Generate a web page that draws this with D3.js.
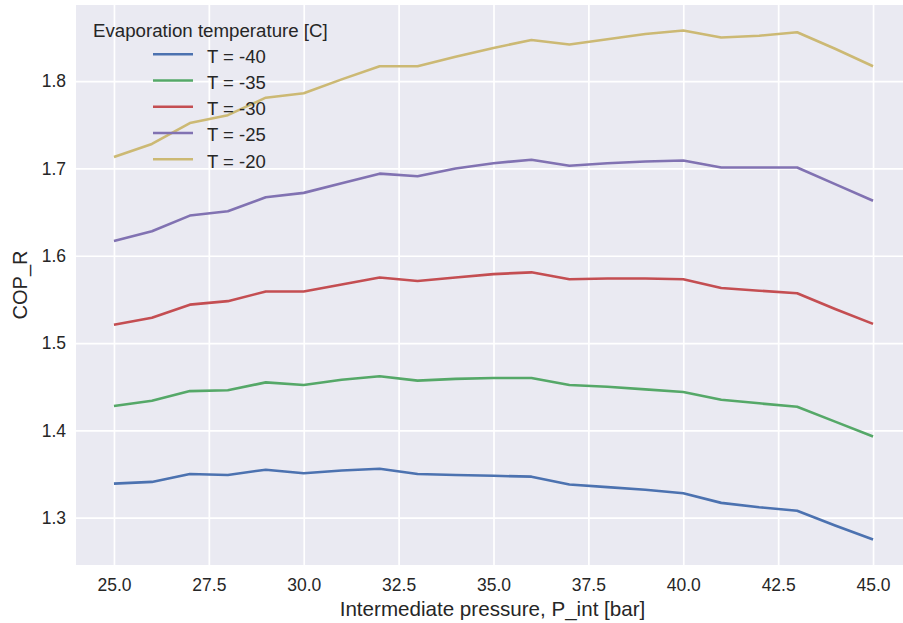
<!DOCTYPE html>
<html>
<head>
<meta charset="utf-8">
<script src="https://cdn.jsdelivr.net/npm/d3@7/dist/d3.min.js"></script>
<style>
  html, body { margin: 0; padding: 0; background: #ffffff; }
  svg { display: block; font-family: "Liberation Sans", Arial, sans-serif; }
</style>
</head>
<body>
<svg id="chart" width="903" height="623"></svg>
<script>
// Intermediate pressure [bar]
const pressures = [25, 26, 27, 28, 29, 30, 31, 32, 33, 34, 35, 36, 37, 38, 39, 40, 41, 42, 43, 44, 45];

// Evaporation temperatures [C]
const temperatures = [-40, -35, -30, -25, -20];

// COP_R per evaporation temperature, one value per pressure
const copT40 = [1.339, 1.341, 1.350, 1.349, 1.355, 1.351, 1.354, 1.356, 1.350, 1.349, 1.348, 1.347, 1.338, 1.335, 1.332, 1.328, 1.317, 1.312, 1.308, 1.291, 1.275];
const copT35 = [1.428, 1.434, 1.445, 1.446, 1.455, 1.452, 1.458, 1.462, 1.457, 1.459, 1.460, 1.460, 1.452, 1.450, 1.447, 1.444, 1.435, 1.431, 1.427, 1.410, 1.393];
const copT30 = [1.521, 1.529, 1.544, 1.548, 1.559, 1.559, 1.567, 1.575, 1.571, 1.575, 1.579, 1.581, 1.573, 1.574, 1.574, 1.573, 1.563, 1.560, 1.557, 1.539, 1.522];
const copT25 = [1.617, 1.628, 1.646, 1.651, 1.667, 1.672, 1.683, 1.694, 1.691, 1.700, 1.706, 1.710, 1.703, 1.706, 1.708, 1.709, 1.701, 1.701, 1.701, 1.682, 1.663];
const copT20 = [1.713, 1.728, 1.752, 1.761, 1.781, 1.786, 1.802, 1.817, 1.817, 1.828, 1.838, 1.847, 1.842, 1.848, 1.854, 1.858, 1.850, 1.852, 1.856, 1.837, 1.817];

const seriesValues = [copT40, copT35, copT30, copT25, copT20];
const seriesColors = ["#4C72B0", "#55A868", "#C44E52", "#8172B2", "#CCB974"];

const xTicks = [25.0, 27.5, 30.0, 32.5, 35.0, 37.5, 40.0, 42.5, 45.0];
const yTicks = [1.3, 1.4, 1.5, 1.6, 1.7, 1.8];

const xLabel = "Intermediate pressure, P_int [bar]";
const yLabel = "COP_R";
const legendTitle = "Evaporation temperature [C]";

// ---- layout ----
const W = 903, H = 623;
const plot = { left: 76, top: 5, bottom: 565, right: 911 };
const textColor = "#262626";

const svg = d3.select("#chart");

// x limits: data range padded by 5% on each side
const xExt = d3.extent(pressures);
const xPad = (xExt[1] - xExt[0]) * 0.05;
const x = d3.scaleLinear()
  .domain([xExt[0] - xPad, xExt[1] + xPad])
  .range([plot.left, plot.right]);

const allVals = seriesValues.flat();
const yExt = d3.extent(allVals);
const yPad = (yExt[1] - yExt[0]) * 0.05;
const y = d3.scaleLinear()
  .domain([yExt[0] - yPad, yExt[1] + yPad])
  .range([plot.bottom, plot.top]);

// background of the axes
const visibleRight = Math.min(plot.right, W);
svg.append("rect")
  .attr("x", plot.left).attr("y", plot.top)
  .attr("width", visibleRight - plot.left)
  .attr("height", plot.bottom - plot.top)
  .attr("fill", "#EAEAF2");

svg.append("clipPath").attr("id", "plot-clip")
  .append("rect")
  .attr("x", plot.left).attr("y", plot.top)
  .attr("width", visibleRight - plot.left)
  .attr("height", plot.bottom - plot.top);

// grid lines drawn via axis generators
const gx = svg.append("g")
  .attr("transform", `translate(0,${plot.bottom})`)
  .call(d3.axisBottom(x).tickValues(xTicks).tickSize(-(plot.bottom - plot.top)).tickFormat(d => d3.format(".1f")(d)).tickPadding(14));
gx.select(".domain").remove();
gx.selectAll(".tick line").attr("stroke", "#ffffff").attr("stroke-width", 1.7);
gx.selectAll(".tick text")
  .attr("fill", textColor)
  .style("font-size", "17.5px")
  .style("font-family", "'Liberation Sans', Arial, sans-serif");

const gy = svg.append("g")
  .attr("transform", `translate(${plot.left},0)`)
  .call(d3.axisLeft(y).tickValues(yTicks).tickSize(-(visibleRight - plot.left)).tickFormat(d => d3.format(".1f")(d)).tickPadding(10));
gy.select(".domain").remove();
gy.selectAll(".tick line").attr("stroke", "#ffffff").attr("stroke-width", 1.7);
gy.selectAll(".tick text")
  .attr("fill", textColor)
  .style("font-size", "17.5px")
  .style("font-family", "'Liberation Sans', Arial, sans-serif");

// series lines
const line = d3.line()
  .x((d, i) => x(pressures[i]))
  .y(d => y(d));

const linesG = svg.append("g").attr("clip-path", "url(#plot-clip)");
seriesValues.forEach((vals, k) => {
  linesG.append("path")
    .datum(vals)
    .attr("d", line)
    .attr("fill", "none")
    .attr("stroke", seriesColors[k])
    .attr("stroke-width", 2.6)
    .attr("stroke-linejoin", "round")
    .attr("stroke-linecap", "butt");
});

// axis labels
svg.append("text")
  .attr("x", 492.5)
  .attr("y", 616)
  .attr("text-anchor", "middle")
  .attr("fill", textColor)
  .style("font-size", "20.6px")
  .text(xLabel);

svg.append("text")
  .attr("transform", `translate(27,${(plot.top + plot.bottom) / 2}) rotate(-90)`)
  .attr("text-anchor", "middle")
  .attr("fill", textColor)
  .style("font-size", "20px")
  .text(yLabel);

// legend
const legend = svg.append("g");
legend.append("text")
  .attr("x", 93).attr("y", 37)
  .attr("fill", textColor)
  .style("font-size", "18.7px")
  .text(legendTitle);

temperatures.forEach((t, k) => {
  const cy = 54.3 + k * 26.25;
  legend.append("line")
    .attr("x1", 153).attr("x2", 193)
    .attr("y1", cy).attr("y2", cy)
    .attr("stroke", seriesColors[k])
    .attr("stroke-width", 2.6);
  legend.append("text")
    .attr("x", 207).attr("y", cy + 8.4)
    .attr("fill", textColor)
    .style("font-size", "18.5px")
    .text(`T = ${t}`);
});
</script>
</body>
</html>
